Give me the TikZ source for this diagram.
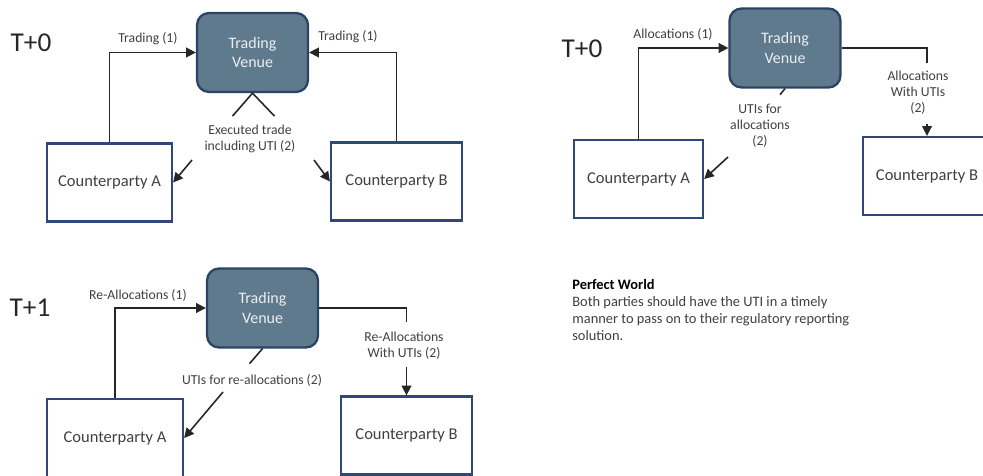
\documentclass[tikz,border=0pt]{standalone}
\usepackage{fontspec}
\setmainfont{Carlito}
\usetikzlibrary{arrows.meta}
\definecolor{venuefill}{RGB}{95,121,141}
\definecolor{venueline}{RGB}{44,68,100}
\definecolor{boxline}{RGB}{47,72,120}
\definecolor{txt}{RGB}{64,64,64}
\tikzset{
    venuebox/.style={draw=venueline, line width=1.3pt, fill=venuefill, rounded corners=0.24cm,
        minimum width=2.22cm, minimum height=1.58cm, align=center, text=white!88!venuefill,
        font=\fontsize{9.1}{11}\selectfont},
    cpbox/.style={draw=boxline, line width=1.3pt, fill=white, minimum height=1.56cm,
        text=txt, font=\fontsize{9.4}{11}\selectfont},
    flow/.style={line width=0.9pt, draw=black!85},
    arr/.style={flow, -{Triangle[length=5.5pt,width=5.5pt]}},
    lbl/.style={text=txt, align=center, inner sep=0pt, font=\fontsize{7.8}{9}\selectfont},
    daylbl/.style={text=black!85, font=\fontsize{15.5}{18}\selectfont}
}
\begin{document}
\begin{tikzpicture}[x=0.02cm, y=-0.02cm]
    \useasboundingbox (0,0) rectangle (983,476);

    % T+0 : trading
    \node[daylbl] (day1) at (31,43) {T+0};
    \node[venuebox] (venue1) at (252.5,52.5) {Trading\\Venue};
    \node[cpbox, minimum width=2.5cm] (cpA1) at (109.5,182.5) {Counterparty A};
    \node[cpbox, minimum width=2.62cm] (cpB1) at (396.5,181.5) {Counterparty B};
    \draw[arr] (cpA1.north) |- (venue1.west);
    \draw[arr] (cpB1.north) |- (venue1.east);
    \node[lbl] (trdA1) at (148,39) {Trading (1)};
    \node[lbl] (trdB1) at (348,37) {Trading (1)};
    % executed trade back to both sides
    \draw[flow] (venue1.south) -- ++(-20,23);
    \draw[flow] (venue1.south) -- ++(22,23);
    \node[lbl] (exec1) at (250,139) {Executed trade\\including UTI (2)};
    \coordinate (e1a) at (192,160);
    \coordinate (e1b) at (314,160);
    \draw[arr] (e1a) -- (cpA1.east);
    \draw[arr] (e1b) -- (cpB1.west);

    % T+0 : allocations
    \node[daylbl] (day2) at (582,49) {T+0};
    \node[venuebox] (venue2) at (785,48) {Trading\\Venue};
    \node[cpbox, minimum width=2.58cm] (cpA2) at (638.5,179) {Counterparty A};
    \node[cpbox, minimum width=2.56cm] (cpB2) at (927,176) {Counterparty B};
    \draw[arr] (cpA2.north) |- (venue2.west);
    \node[lbl] (alloc2) at (673,34) {Allocations (1)};
    \coordinate (r2) at (927,63);
    \coordinate (s2) at (927,124);
    \draw[flow] (venue2.east) -| (r2);
    \node[lbl] (allocB2) at (918,93) {Allocations\\With UTIs\\(2)};
    \draw[arr] (s2) -- (cpB2.north);
    \draw[flow] (venue2.south) -- ++(-5,6);
    \node[lbl] (utiA2) at (760,126) {UTIs for\\allocations\\(2)};
    \coordinate (u2) at (728,157);
    \draw[arr] (u2) -- (cpA2.east);

    % T+1 : re-allocations
    \node[daylbl] (day3) at (30,308) {T+1};
    \node[venuebox] (venue3) at (262.5,308) {Trading\\Venue};
    \node[cpbox, minimum width=2.72cm] (cpA3) at (115,438) {Counterparty A};
    \node[cpbox, minimum width=2.62cm] (cpB3) at (406.5,435.5) {Counterparty B};
    \draw[arr] (cpA3.north) |- (venue3.west);
    \node[lbl] (realloc3) at (138,295) {Re-Allocations (1)};
    \coordinate (r3) at (406.5,322);
    \coordinate (s3) at (406.5,367);
    \draw[flow] (venue3.east) -| (r3);
    \node[lbl] (reallocB3) at (404,346) {Re-Allocations\\With UTIs (2)};
    \draw[arr] (s3) -- (cpB3.north);
    \draw[flow] (venue3.south) -- ++(-13,15);
    \node[lbl] (utiA3) at (252,380) {UTIs for re-allocations (2)};
    \coordinate (u3) at (223,392);
    \draw[arr] (u3) -- (cpA3.east);

    % note
    \node[anchor=north west, align=left, inner sep=0pt, text=txt,
        font=\fontsize{8.2}{9.6}\selectfont] (note) at (572,279)
        {\textcolor{black}{\textbf{Perfect World}}\\
         Both parties should have the UTI in a timely\\
         manner to pass on to their regulatory reporting\\
         solution.};
\end{tikzpicture}
\end{document}
